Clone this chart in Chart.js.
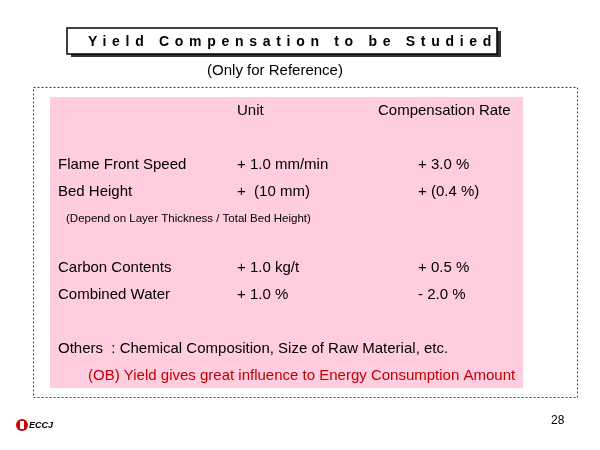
<!DOCTYPE html>
<html><head><meta charset="utf-8">
<script src="https://cdn.jsdelivr.net/npm/chart.js@4"></script>
<style>html,body{margin:0;padding:0;background:#fff}</style>
</head><body>
<canvas id="c" width="600" height="450"></canvas>
<script>
const title = "Yield Compensation to be Studied";
const subtitle = "(Only for Reference)";
const headers = ["Unit", "Compensation Rate"];
const items = ["Flame Front Speed", "Bed Height", "Carbon Contents", "Combined Water"];
const units = ["+ 1.0 mm/min", "+  (10 mm)", "+ 1.0 kg/t", "+ 1.0 %"];
const rates = ["+ 3.0 %", "+ (0.4 %)", "+ 0.5 %", "- 2.0 %"];
const note = "(Depend on Layer Thickness / Total Bed Height)";
const others = "Others  : Chemical Composition, Size of Raw Material, etc.";
const remark = "(OB) Yield gives great influence to Energy Consumption Amount";
const pageNo = "28";

const F = '"Liberation Sans", Arial, sans-serif';
const slide = {
  id: 'slide',
  afterDraw(chart) {
    const c = chart.ctx;
    c.save();
    c.fillStyle = '#fff'; c.fillRect(0,0,600,450);
    c.fillStyle = '#333'; c.fillRect(71,31,430,26);
    c.fillStyle = '#fff'; c.fillRect(67,28,430,26);
    c.strokeStyle = '#000'; c.lineWidth = 1.5; c.strokeRect(67,28,430,26);
    c.fillStyle = '#000'; c.font = 'bold 14px ' + F; c.textBaseline = 'middle';
    c.letterSpacing = '5.7px'; c.textAlign = 'left';
    c.fillText(title, 88, 42);
    c.letterSpacing = '0px'; c.textAlign = 'center';
    c.font = '15px ' + F; c.fillText(subtitle, 275, 71);
    c.setLineDash([2,2]); c.lineWidth = 1; c.strokeStyle = '#444';
    c.strokeRect(33.5,87.5,544,310);
    c.setLineDash([]);
    c.fillStyle = '#ffcce0'; c.fillRect(50,97,473,291);
    c.fillStyle = '#000'; c.font = '15px ' + F; c.textAlign = 'left';
    c.fillText(headers[0], 237, 111);
    c.fillText(headers[1], 378, 111);
    const ys = [165, 192, 268, 295];
    items.forEach((t,i)=>{
      c.fillText(t, 58, ys[i]);
      c.fillText(units[i], 237, ys[i]);
      c.fillText(rates[i], 418, ys[i]);
    });
    c.font = '11.5px ' + F; c.fillText(note, 66, 219);
    c.font = '15px ' + F; c.fillText(others, 58, 349);
    c.fillStyle = '#c00000'; c.fillText(remark, 88, 376);
    c.fillStyle = '#000'; c.font = '12px ' + F; c.fillText(pageNo, 551, 421);
    c.fillStyle = '#d00000'; c.beginPath(); c.arc(22,425,6,0,Math.PI*2); c.fill();
    c.fillStyle = '#fff'; c.fillRect(20,421,4,8);
    c.fillStyle = '#000'; c.font = 'italic bold 9px ' + F; c.fillText("ECCJ", 29, 426);
    c.restore();
  }
};
new Chart(document.getElementById('c'), {
  type: 'scatter',
  data: { datasets: [{ data: [] }] },
  options: {
    responsive: false, animation: false,
    plugins: { legend: { display: false }, tooltip: { enabled: false } },
    scales: { x: { display: false }, y: { display: false } }
  },
  plugins: [slide]
});
</script>
</body></html>
